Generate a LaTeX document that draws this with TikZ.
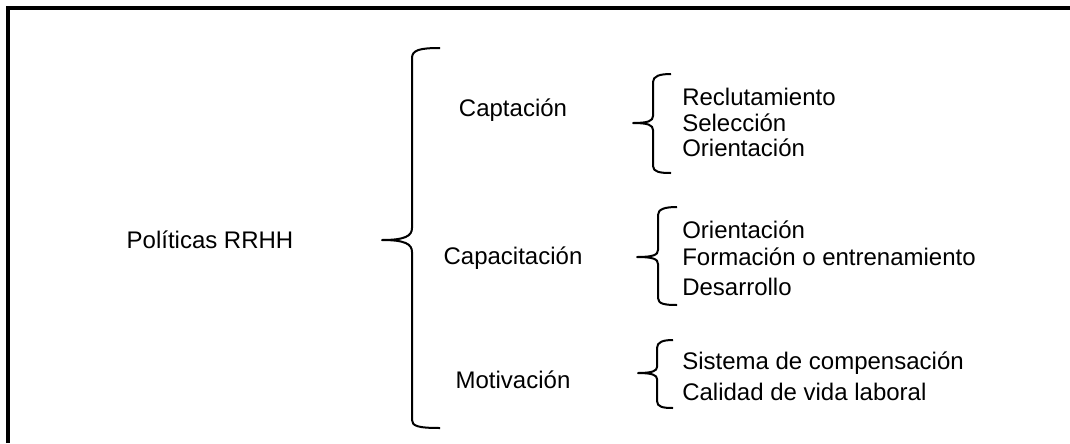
\documentclass[tikz,border=0pt]{standalone}
\usepackage{fontspec}
\setmainfont{Liberation Sans}
\begin{document}
\begin{tikzpicture}[x=0.75pt,y=-0.75pt,
        lbl/.style={inner sep=0pt,font=\fontsize{18}{20}\selectfont},
        item/.style={lbl,anchor=west},
        brace/.style={line width=1.5pt,line join=round}]
        \useasboundingbox (0,0) rectangle (1070,443);
        \draw[line width=2.3pt] (8,443) -- (8,8) -- (1070,8);
        % first level
        \node[lbl] (pol) at (210, 240) {Políticas RRHH};
        \draw[brace] (440,48) .. controls (420,48) and (412,50) .. (412,58) -- (412,228)
                .. controls (412,236) and (405,240) .. (382,240)
                .. controls (405,240) and (412,244) .. (412,252) -- (412,420)
                .. controls (412,426) and (418,428) .. (440,428);
        % second level
        \node[lbl] (capt) at (513, 110) {Captación};
        \node[lbl] (capa) at (513, 258) {Capacitación};
        \node[lbl] (moti) at (513, 380) {Motivación};
        \draw[brace] (671,74) .. controls (660,74) and (653,76) .. (653,82) -- (653,116)
                .. controls (653,121) and (648,123) .. (633,123)
                .. controls (648,123) and (653,125) .. (653,130) -- (653,166)
                .. controls (653,172) and (660,173) .. (671,173);
        \draw[brace] (677,207) .. controls (665,207) and (658,209) .. (658,215) -- (658,250)
                .. controls (658,255) and (653,257) .. (637,257)
                .. controls (653,257) and (658,259) .. (658,264) -- (658,298)
                .. controls (658,304) and (665,305) .. (677,305);
        \draw[brace] (673,340) .. controls (663,340) and (657,342) .. (657,348) -- (657,367)
                .. controls (657,371) and (652,373) .. (638,373)
                .. controls (652,373) and (657,375) .. (657,379) -- (657,401)
                .. controls (657,407) and (663,408) .. (673,408);
        % third level
        \node[item] (c1) at (682, 97) {Reclutamiento};
        \node[item] (c2) at (682, 123) {Selección};
        \node[item] (c3) at (682, 148) {Orientación};
        \node[item] (d1) at (682, 230) {Orientación};
        \node[item] (d2) at (682, 257) {Formación o entrenamiento};
        \node[item] (d3) at (682, 287) {Desarrollo};
        \node[item] (m1) at (682, 363) {Sistema de compensación};
        \node[item] (m2) at (682, 392) {Calidad de vida laboral};
\end{tikzpicture}
\end{document}
